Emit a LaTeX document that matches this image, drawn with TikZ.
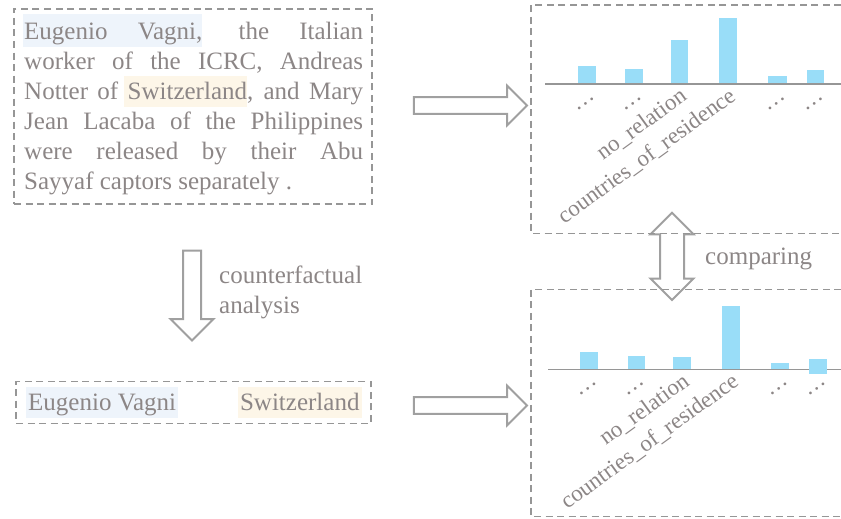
\documentclass[tikz,border=0pt]{standalone}
\usepackage{fontspec}
\setmainfont{Liberation Serif}
\newfontfamily\timesfont{Liberation Serif}
\usetikzlibrary{shapes.arrows}
\definecolor{txtgray}{RGB}{140,134,134}
\definecolor{boxgray}{RGB}{150,150,150}
\definecolor{arrgray}{RGB}{160,160,160}
\definecolor{barblue}{RGB}{153,221,248}
\definecolor{hlblue}{RGB}{238,244,251}
\definecolor{hlorange}{RGB}{253,246,232}
\newcommand{\jline}[1]{\makebox[339pt][s]{#1}}
\tikzset{
  dashbox/.style={draw=boxgray, line width=1.5pt, dash pattern=on 7pt off 4.5pt, inner sep=0pt},
  txt/.style={text=txtgray, font=\timesfont\fontsize{25}{30}\selectfont, inner sep=0pt},
  fatarrow/.style={single arrow, draw=arrgray, line width=2pt, fill=white, inner xsep=0pt,
    inner ysep=7.3pt, single arrow head extend=11.5pt, minimum height=113pt},
  bar/.style={fill=barblue, draw=none},
  axisline/.style={draw=boxgray, line width=1.5pt},
  lbl/.style={text=txtgray, font=\timesfont\fontsize{23}{28}\selectfont, rotate=36, anchor=base east, inner sep=0pt}
}
\begin{document}
\begin{tikzpicture}[x=1pt,y=-1pt]
      \useasboundingbox (0,0) rectangle (841,519);
      % sentence box
      \fill[hlblue] (22.7,14) rectangle (201.7,46.7);
      \fill[hlorange] (124,76) rectangle (246.7,107.3);
      \node[dashbox, minimum width=358pt, minimum height=195pt] (sentbox) at (193,106.5) {};
      \node[txt, anchor=north west, align=left] (sent) at (24,22) {\jline{Eugenio Vagni, the Italian}\\
        \jline{worker of the ICRC, Andreas}\\
        \jline{Notter of Switzerland, and Mary}\\
        \jline{Jean Lacaba of the Philippines}\\
        \jline{were released by their Abu}\\
        Sayyaf captors separately .};
      % entity pair box
      \node[dashbox, minimum width=355pt, minimum height=41.6pt] (pairbox) at (193.5,402.5) {};
      \node[txt, fill=hlblue, text height=24pt, text depth=7pt, inner xsep=2pt, anchor=base west] (head) at (26,410.7) {Eugenio Vagni};
      \node[txt, fill=hlorange, text height=24pt, text depth=7pt, inner xsep=2pt, anchor=base east] (tail) at (361.7,410.7) {Switzerland};
      % arrows
      \node[fatarrow] (toptop) at (466.3,105.5) {};
      \node[fatarrow] (topbot) at (466.3,405.5) {};
      \node[fatarrow, minimum height=90pt, inner ysep=8pt, single arrow head extend=12.5pt, rotate=-90] (cfarrow) at (192,291) {};
      \node[double arrow, draw=arrgray, line width=2pt, fill=white, inner xsep=0pt, inner ysep=11pt,
        double arrow head extend=9.5pt, minimum height=87.3pt, rotate=90] (cmparrow) at (672,256.4) {};
      \node[txt, anchor=north west, align=left] (cfa) at (219,266) {counterfactual\\analysis};
      \node[txt, anchor=base west] (cmp) at (705,264) {comparing};
      % upper chart
      \draw[dashbox] (841,5) -- (531,5) -- (531,233.3) -- (841,233.3);
      \draw[axisline] (545,84) -- (841,84);
      \fill[bar] (577.7,66) rectangle (595.7,83.2);
      \fill[bar] (625,69) rectangle (643,83.2);
      \fill[bar] (671,40) rectangle (687.7,83.2);
      \fill[bar] (719,18) rectangle (737,83.2);
      \fill[bar] (768,75.7) rectangle (786.7,83.2);
      \fill[bar] (806.7,70) rectangle (824,83.2);
      \node[lbl] (ua) at (595.7,98) {\ldots};
      \node[lbl] (ub) at (643,98) {\ldots};
      \node[lbl] (uc) at (688,99) {no\_relation};
      \node[lbl] (ud) at (737,99) {countries\_of\_residence};
      \node[lbl] (ue) at (786.3,98) {\ldots};
      \node[lbl] (uf) at (824.3,98) {\ldots};
      % lower chart
      \draw[dashbox] (841,289.3) -- (531,289.3) -- (531,516.7) -- (841,516.7);
      \draw[axisline] (548,369.3) -- (841,369.3);
      \fill[bar] (580,351.7) rectangle (598,368.5);
      \fill[bar] (627.7,355.7) rectangle (645,368.5);
      \fill[bar] (672.7,356.7) rectangle (690.7,368.5);
      \fill[bar] (722,306) rectangle (740,368.5);
      \fill[bar] (771,363) rectangle (789,368.5);
      \fill[bar] (809,358.7) rectangle (827,374);
      \node[lbl] (la) at (598,383.3) {\ldots};
      \node[lbl] (lb) at (645.3,383.3) {\ldots};
      \node[lbl] (lc) at (690.7,384.3) {no\_relation};
      \node[lbl] (ld) at (740,384.3) {countries\_of\_residence};
      \node[lbl] (le) at (789,383.3) {\ldots};
      \node[lbl] (lf) at (827,383.3) {\ldots};
\end{tikzpicture}
\end{document}
